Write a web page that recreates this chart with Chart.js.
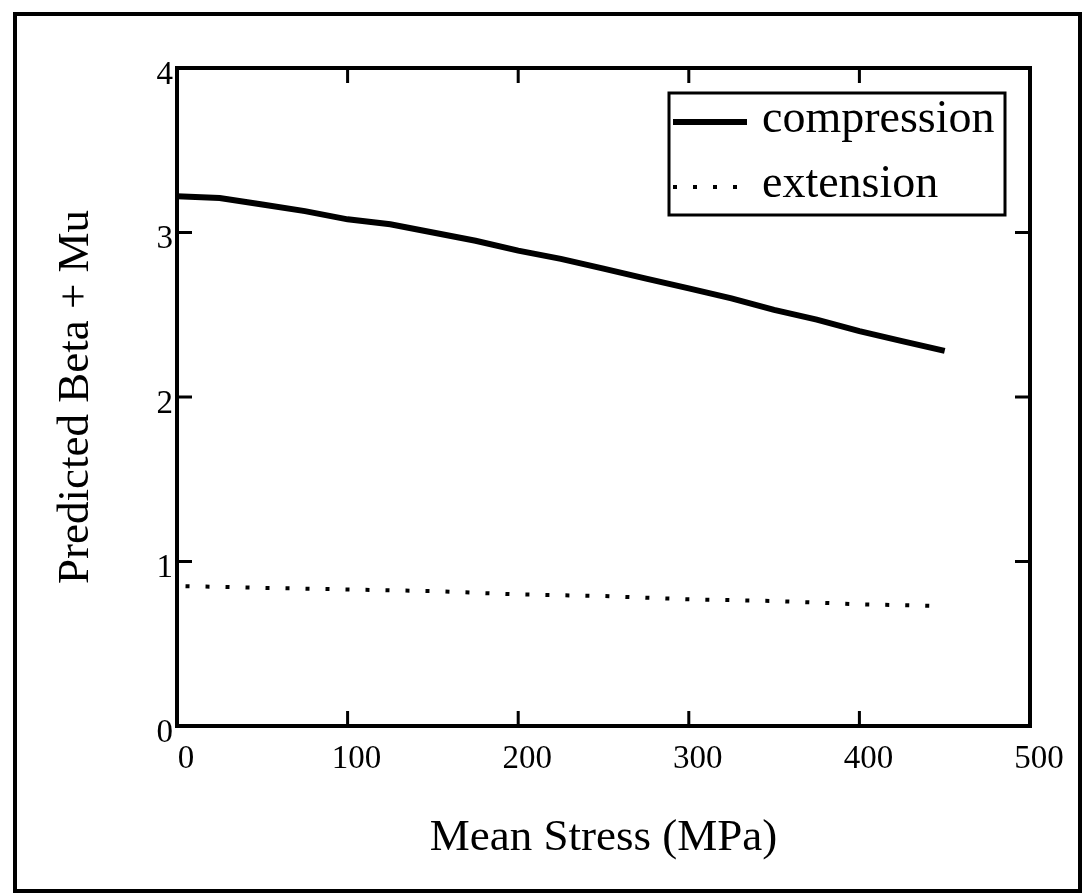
<!DOCTYPE html>
<html>
<head>
<meta charset="utf-8">
<script src="https://cdn.jsdelivr.net/npm/chart.js@4/dist/chart.umd.min.js"></script>
<style>
  html, body { margin: 0; padding: 0; background: #fff; }
  #wrap { width: 1087px; height: 893px; }
</style>
</head>
<body>
<div id="wrap"><canvas id="betaChart"></canvas></div>
<script>
// values
var compressionStress = [0, 25, 50, 75, 100, 125, 150, 175, 200, 225, 250, 275, 300, 325, 350, 375, 400, 425, 450];
var compressionBeta = [3.22, 3.21, 3.17, 3.13, 3.08, 3.05, 3.00, 2.95, 2.89, 2.84, 2.78, 2.72, 2.66, 2.60, 2.53, 2.47, 2.40, 2.34, 2.28];

var extensionStress = [5, 50, 100, 150, 200, 250, 300, 350, 400, 446];
var extensionBeta = [0.85, 0.84, 0.83, 0.82, 0.80, 0.79, 0.77, 0.76, 0.74, 0.73];

var xTicks = [0, 100, 200, 300, 400, 500];
var yTicks = [0, 1, 2, 3, 4];

var serif = '"Liberation Serif", "DejaVu Serif", serif';

function toPoints(xs, ys) {
    return xs.map(function(x, i) { return { x: x, y: ys[i] }; });
}

// frame, plot box, inward ticks and the boxed legend
var framePlugin = {
    id: 'framePlugin',
    beforeDraw: function(chart) {
        var ctx = chart.ctx;
        ctx.save();
        ctx.fillStyle = '#fff';
        ctx.fillRect(0, 0, chart.width, chart.height);
        ctx.strokeStyle = '#000';
        ctx.lineWidth = 4;
        ctx.strokeRect(15, 14, 1065, 877);
        ctx.restore();
    },
    afterDraw: function(chart) {
        var ctx = chart.ctx;
        var a = chart.chartArea;
        var xs = chart.scales.x, ys = chart.scales.y;
        var tl = 15;
        ctx.save();
        ctx.strokeStyle = '#000';
        ctx.lineWidth = 4;
        ctx.strokeRect(a.left, a.top, a.right - a.left, a.bottom - a.top);
        ctx.lineWidth = 3;
        ctx.beginPath();
        xTicks.forEach(function(v) {
            var px = xs.getPixelForValue(v);
            ctx.moveTo(px, a.bottom); ctx.lineTo(px, a.bottom - tl);
            ctx.moveTo(px, a.top); ctx.lineTo(px, a.top + tl);
        });
        yTicks.forEach(function(v) {
            var py = ys.getPixelForValue(v);
            ctx.moveTo(a.left, py); ctx.lineTo(a.left + tl, py);
            ctx.moveTo(a.right, py); ctx.lineTo(a.right - tl, py);
        });
        ctx.stroke();

        // legend
        var bx = a.left + 492, by = a.top + 25, bw = 336, bh = 122;
        ctx.fillStyle = '#fff';
        ctx.fillRect(bx, by, bw, bh);
        ctx.lineWidth = 3;
        ctx.strokeRect(bx, by, bw, bh);
        var ds = chart.data.datasets;
        var rows = [by + 29, by + 94];
        ds.forEach(function(d, i) {
            ctx.beginPath();
            ctx.lineWidth = d.borderWidth;
            ctx.setLineDash(d.borderDash || []);
            ctx.moveTo(bx + 4, rows[i]);
            ctx.lineTo(bx + 78, rows[i]);
            ctx.stroke();
            ctx.setLineDash([]);
            ctx.fillStyle = '#000';
            ctx.font = '46px ' + serif;
            ctx.textBaseline = 'middle';
            ctx.textAlign = 'left';
            ctx.fillText(d.label, bx + 93, rows[i] - 2);
        });
        ctx.restore();
    }
};

var ctx = document.getElementById('betaChart').getContext('2d');

var betaChart = new Chart(ctx, {
    type: 'line',
    data: {
        datasets: [{
            label: 'compression',
            data: toPoints(compressionStress, compressionBeta),
            borderColor: '#000',
            borderWidth: 6,
            pointRadius: 0,
            fill: false
        }, {
            label: 'extension',
            data: toPoints(extensionStress, extensionBeta),
            borderColor: '#000',
            borderWidth: 4,
            borderDash: [4, 16],
            pointRadius: 0,
            fill: false
        }]
    },
    options: {
        responsive: true,
        maintainAspectRatio: false,
        animation: false,
        layout: { padding: { left: 0, top: 68, right: 57, bottom: 0 } },
        plugins: {
            legend: { display: false },
            tooltip: { enabled: false }
        },
        scales: {
            x: {
                type: 'linear',
                min: 0,
                max: 500,
                afterBuildTicks: function(s) { s.ticks = xTicks.map(function(v) { return { value: v }; }); },
                afterFit: function(s) { s.height = 167; },
                grid: { display: false, drawTicks: false },
                border: { display: false },
                ticks: {
                    color: '#000',
                    padding: 14,
                    labelOffset: 9,
                    maxRotation: 0,
                    font: { family: serif, size: 33 }
                },
                title: {
                    display: true,
                    text: 'Mean Stress (MPa)',
                    color: '#000',
                    font: { family: serif, size: 45, lineHeight: 1.2 },
                    padding: { top: 0, bottom: 28 }
                }
            },
            y: {
                type: 'linear',
                min: 0,
                max: 4,
                afterBuildTicks: function(s) { s.ticks = yTicks.map(function(v) { return { value: v }; }); },
                afterFit: function(s) { s.width = 177; },
                grid: { display: false, drawTicks: false },
                border: { display: false },
                ticks: {
                    color: '#000',
                    padding: 4,
                    labelOffset: 7,
                    font: { family: serif, size: 33 }
                },
                title: {
                    display: true,
                    text: 'Predicted Beta + Mu',
                    color: '#000',
                    font: { family: serif, size: 45, lineHeight: 1.2 },
                    padding: { top: 49, bottom: 0 }
                }
            }
        }
    },
    plugins: [framePlugin]
});
</script>
</body>
</html>
